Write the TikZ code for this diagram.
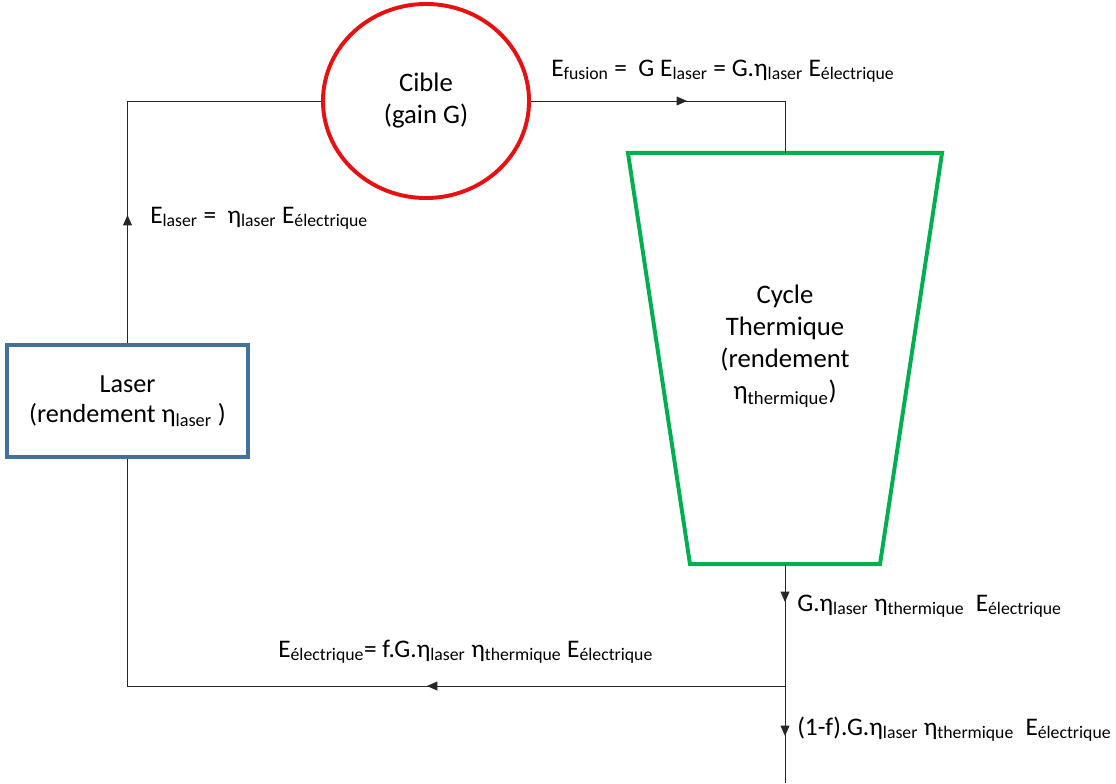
\documentclass[tikz,border=0pt]{standalone}
\usepackage{fontspec}
\setmainfont{Carlito}
\usepackage{tikz}
\usetikzlibrary{shapes.geometric, arrows.meta, decorations.markings, positioning, calc}
\definecolor{laserblue}{RGB}{65,113,156}
\definecolor{ciblered}{RGB}{232,16,16}
\definecolor{cyclegreen}{RGB}{0,176,80}
\newcommand\sub[1]{\textsubscript{#1}}
\tikzset{
  block/.style={draw, line width=2.8pt, align=center, text=black},
  bigtext/.style={font=\fontsize{19}{22.75}\selectfont},
  eqlabel/.style={inner sep=0pt, anchor=base west, font=\fontsize{18}{21}\selectfont},
  flow/.style={draw=black!85, line width=0.7pt, postaction={decorate},
    decoration={markings, mark=at position #1 with {\arrow{Triangle[length=2.6mm,width=2.2mm]}}}}
}
\begin{document}
\begin{tikzpicture}[x=0.025cm, y=-0.025cm]
\useasboundingbox (0,0) rectangle (1116,783);

\node [block, draw=laserblue, minimum width=6.025cm, minimum height=2.8cm, font=\fontsize{18.6}{21.3}\selectfont] (laser) at (127.5,401) {Laser\\(rendement η\sub{laser} )};
\node [block, bigtext, ellipse, draw=ciblered, minimum width=5.15cm, minimum height=4.85cm] (cible) at (426,101) {Cible\\(gain G)};
\node [inner sep=0pt, outer sep=0pt, minimum width=4.75cm, minimum height=10.275cm] (cycle) at (785,358.5) {};
\draw [cyclegreen, line width=2.8pt] (cycle.south west) -- (cycle.south east) -- ([xshift=1.55cm]cycle.north east) -- ([xshift=-1.55cm]cycle.north west) -- cycle;
\node [bigtext, align=center, yshift=0.3cm] (cycletext) at (cycle.center) {Cycle\\Thermique\\(rendement\\η\sub{thermique})};

\coordinate (split) at (785,686);
\coordinate (out) at (785,783);

\draw [flow=3.2cm] (laser.north) |- (cible.west);
\draw [flow=3.9cm] (cible.east) -| (cycle.north);
\draw [flow=0.95cm] (cycle.south) -- (split);
\draw [flow=1.25cm] (split) -- (out);
\draw [flow=8.95cm] (split) -| (laser.south);

\node [eqlabel] (efusion) at (551,76) {E\sub{fusion} =\ \ G E\sub{laser} = G.η\sub{laser} E\sub{électrique}};
\node [eqlabel] (elaser) at (150,223) {E\sub{laser} =\ \ η\sub{laser} E\sub{électrique}};
\node [eqlabel] (eutile) at (797,611) {G.η\sub{laser} η\sub{thermique}\ \ E\sub{électrique}};
\node [eqlabel] (erecirc) at (278,657) {E\sub{électrique}= f.G.η\sub{laser} η\sub{thermique} E\sub{électrique}};
\node [eqlabel] (enet) at (797,735) {(1-f).G.η\sub{laser} η\sub{thermique}\ \ E\sub{électrique}};
\end{tikzpicture}
\end{document}
